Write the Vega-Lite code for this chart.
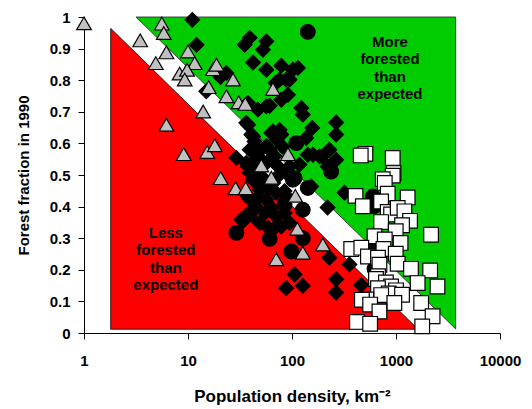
{
  "$schema": "https://vega.github.io/schema/vega-lite/v6.json",
  "width": 416,
  "height": 316,
  "autosize": {"type": "none"},
  "padding": {"left": 84, "top": 17, "right": 32, "bottom": 76},
  "background": "white",
  "config": {"view": {"stroke": null}, "font": "Liberation Sans"},
  "datasets": {
    "red": [
      {"x": 1.806, "y": 0.964, "y2": 0.012},
      {"x": 1629, "y": 0.012, "y2": 0.012}
    ],
    "green": [
      {"x": 3.16, "y": 1.0, "y2": 1.0},
      {"x": 3750, "y": 1.0, "y2": 0.013}
    ],
    "labels": [
      {"x": 875, "y": 0.921, "label": ["More", "forested", "than", "expected"]},
      {"x": 6.12, "y": 0.316, "label": ["Less", "forested", "than", "expected"]}
    ],
    "points": [
      {"x": 11.0, "y": 0.991, "t": "D"},
      {"x": 12.1, "y": 0.912, "t": "D"},
      {"x": 39.2, "y": 0.934, "t": "D"},
      {"x": 35.1, "y": 0.912, "t": "D"},
      {"x": 56.7, "y": 0.923, "t": "D"},
      {"x": 52.6, "y": 0.896, "t": "D"},
      {"x": 42.2, "y": 0.856, "t": "D"},
      {"x": 56.7, "y": 0.833, "t": "D"},
      {"x": 78.9, "y": 0.846, "t": "D"},
      {"x": 114, "y": 0.839, "t": "D"},
      {"x": 23.4, "y": 0.823, "t": "D"},
      {"x": 20.5, "y": 0.81, "t": "D"},
      {"x": 15.0, "y": 0.765, "t": "D"},
      {"x": 88, "y": 0.802, "t": "D"},
      {"x": 69.6, "y": 0.791, "t": "D"},
      {"x": 91.4, "y": 0.754, "t": "D"},
      {"x": 76, "y": 0.802, "t": "D"},
      {"x": 94.8, "y": 0.802, "t": "D"},
      {"x": 102, "y": 0.833, "t": "D"},
      {"x": 78.9, "y": 0.738, "t": "D"},
      {"x": 123, "y": 0.712, "t": "D"},
      {"x": 127, "y": 0.691, "t": "D"},
      {"x": 56.7, "y": 0.717, "t": "D"},
      {"x": 47, "y": 0.707, "t": "D"},
      {"x": 37.8, "y": 0.728, "t": "D"},
      {"x": 61, "y": 0.719, "t": "D"},
      {"x": 36.3, "y": 0.665, "t": "D"},
      {"x": 37.8, "y": 0.659, "t": "D"},
      {"x": 40.6, "y": 0.628, "t": "D"},
      {"x": 42.2, "y": 0.622, "t": "D"},
      {"x": 43.7, "y": 0.606, "t": "D"},
      {"x": 63.3, "y": 0.633, "t": "D"},
      {"x": 65.6, "y": 0.638, "t": "D"},
      {"x": 76, "y": 0.643, "t": "D"},
      {"x": 78.9, "y": 0.628, "t": "D"},
      {"x": 71, "y": 0.612, "t": "D"},
      {"x": 81, "y": 0.59, "t": "D"},
      {"x": 39.2, "y": 0.58, "t": "D"},
      {"x": 61, "y": 0.58, "t": "D"},
      {"x": 48.9, "y": 0.575, "t": "D"},
      {"x": 156.6, "y": 0.649, "t": "D"},
      {"x": 137, "y": 0.617, "t": "D"},
      {"x": 142, "y": 0.564, "t": "D"},
      {"x": 118, "y": 0.533, "t": "D"},
      {"x": 184, "y": 0.559, "t": "D"},
      {"x": 159, "y": 0.564, "t": "D"},
      {"x": 47, "y": 0.559, "t": "D"},
      {"x": 44, "y": 0.545, "t": "D"},
      {"x": 56.7, "y": 0.538, "t": "D"},
      {"x": 56.7, "y": 0.591, "t": "D"},
      {"x": 68, "y": 0.559, "t": "D"},
      {"x": 73.5, "y": 0.527, "t": "D"},
      {"x": 94.8, "y": 0.527, "t": "D"},
      {"x": 75, "y": 0.5, "t": "D"},
      {"x": 36.3, "y": 0.538, "t": "D"},
      {"x": 29.2, "y": 0.554, "t": "D"},
      {"x": 37.8, "y": 0.527, "t": "D"},
      {"x": 49, "y": 0.517, "t": "D"},
      {"x": 266, "y": 0.666, "t": "D"},
      {"x": 266, "y": 0.628, "t": "D"},
      {"x": 229, "y": 0.58, "t": "D"},
      {"x": 266, "y": 0.548, "t": "D"},
      {"x": 220, "y": 0.527, "t": "D"},
      {"x": 196, "y": 0.559, "t": "D"},
      {"x": 88, "y": 0.506, "t": "D"},
      {"x": 39.2, "y": 0.507, "t": "D"},
      {"x": 50.7, "y": 0.497, "t": "D"},
      {"x": 43.7, "y": 0.481, "t": "D"},
      {"x": 42.2, "y": 0.485, "t": "D"},
      {"x": 53, "y": 0.47, "t": "D"},
      {"x": 66, "y": 0.475, "t": "D"},
      {"x": 48.9, "y": 0.453, "t": "D"},
      {"x": 60, "y": 0.46, "t": "D"},
      {"x": 37.8, "y": 0.432, "t": "D"},
      {"x": 39.2, "y": 0.423, "t": "D"},
      {"x": 56.7, "y": 0.422, "t": "D"},
      {"x": 47, "y": 0.428, "t": "D"},
      {"x": 63.3, "y": 0.397, "t": "D"},
      {"x": 45, "y": 0.4, "t": "D"},
      {"x": 55, "y": 0.38, "t": "D"},
      {"x": 70, "y": 0.37, "t": "D"},
      {"x": 85, "y": 0.38, "t": "D"},
      {"x": 90, "y": 0.43, "t": "D"},
      {"x": 70.6, "y": 0.444, "t": "D"},
      {"x": 84.8, "y": 0.449, "t": "D"},
      {"x": 153, "y": 0.464, "t": "D"},
      {"x": 320, "y": 0.444, "t": "D"},
      {"x": 220, "y": 0.397, "t": "D"},
      {"x": 32.6, "y": 0.359, "t": "D"},
      {"x": 33.8, "y": 0.354, "t": "D"},
      {"x": 48.9, "y": 0.348, "t": "D"},
      {"x": 58.8, "y": 0.333, "t": "D"},
      {"x": 65.6, "y": 0.327, "t": "D"},
      {"x": 78.9, "y": 0.337, "t": "D"},
      {"x": 94.8, "y": 0.348, "t": "D"},
      {"x": 229, "y": 0.238, "t": "D"},
      {"x": 357, "y": 0.217, "t": "D"},
      {"x": 106, "y": 0.185, "t": "D"},
      {"x": 266, "y": 0.17, "t": "D"},
      {"x": 462, "y": 0.152, "t": "D"},
      {"x": 127, "y": 0.149, "t": "D"},
      {"x": 88, "y": 0.142, "t": "D"},
      {"x": 266, "y": 0.128, "t": "D"},
      {"x": 142, "y": 0.953, "t": "C"},
      {"x": 110, "y": 0.601, "t": "C"},
      {"x": 238, "y": 0.511, "t": "C"},
      {"x": 106, "y": 0.49, "t": "C"},
      {"x": 102, "y": 0.485, "t": "C"},
      {"x": 142, "y": 0.459, "t": "C"},
      {"x": 127, "y": 0.39, "t": "C"},
      {"x": 127, "y": 0.3, "t": "C"},
      {"x": 98.5, "y": 0.258, "t": "C"},
      {"x": 598, "y": 0.432, "t": "C"},
      {"x": 612, "y": 0.401, "t": "C"},
      {"x": 547, "y": 0.272, "t": "C"},
      {"x": 621, "y": 0.203, "t": "C"},
      {"x": 29.2, "y": 0.317, "t": "C"},
      {"x": 61, "y": 0.298, "t": "C"},
      {"x": 39.2, "y": 0.375, "t": "C"},
      {"x": 84.8, "y": 0.407, "t": "C"},
      {"x": 508, "y": 0.567, "t": "S"},
      {"x": 458, "y": 0.562, "t": "S"},
      {"x": 930, "y": 0.554, "t": "S"},
      {"x": 946, "y": 0.506, "t": "S"},
      {"x": 930, "y": 0.498, "t": "S"},
      {"x": 746, "y": 0.487, "t": "S"},
      {"x": 780, "y": 0.475, "t": "S"},
      {"x": 833, "y": 0.441, "t": "S"},
      {"x": 1294, "y": 0.429, "t": "S"},
      {"x": 408, "y": 0.434, "t": "S"},
      {"x": 480, "y": 0.401, "t": "S"},
      {"x": 719, "y": 0.416, "t": "S"},
      {"x": 833, "y": 0.383, "t": "S"},
      {"x": 897, "y": 0.375, "t": "S"},
      {"x": 1038, "y": 0.396, "t": "S"},
      {"x": 1205, "y": 0.385, "t": "S"},
      {"x": 719, "y": 0.351, "t": "S"},
      {"x": 1365, "y": 0.355, "t": "S"},
      {"x": 1143, "y": 0.341, "t": "S"},
      {"x": 994, "y": 0.322, "t": "S"},
      {"x": 2173, "y": 0.311, "t": "S"},
      {"x": 621, "y": 0.306, "t": "S"},
      {"x": 780, "y": 0.296, "t": "S"},
      {"x": 371, "y": 0.266, "t": "S"},
      {"x": 464, "y": 0.27, "t": "S"},
      {"x": 757, "y": 0.266, "t": "S"},
      {"x": 1107, "y": 0.285, "t": "S"},
      {"x": 994, "y": 0.251, "t": "S"},
      {"x": 537, "y": 0.242, "t": "S"},
      {"x": 671, "y": 0.238, "t": "S"},
      {"x": 1038, "y": 0.219, "t": "S"},
      {"x": 1393, "y": 0.203, "t": "S"},
      {"x": 693, "y": 0.216, "t": "S"},
      {"x": 2130, "y": 0.198, "t": "S"},
      {"x": 671, "y": 0.18, "t": "S"},
      {"x": 642, "y": 0.171, "t": "S"},
      {"x": 800, "y": 0.16, "t": "S"},
      {"x": 897, "y": 0.147, "t": "S"},
      {"x": 1615, "y": 0.158, "t": "S"},
      {"x": 2505, "y": 0.147, "t": "S"},
      {"x": 671, "y": 0.142, "t": "S"},
      {"x": 1000, "y": 0.135, "t": "S"},
      {"x": 850, "y": 0.125, "t": "S"},
      {"x": 720, "y": 0.12, "t": "S"},
      {"x": 1143, "y": 0.121, "t": "S"},
      {"x": 518, "y": 0.106, "t": "S"},
      {"x": 470, "y": 0.105, "t": "S"},
      {"x": 564, "y": 0.09, "t": "S"},
      {"x": 964, "y": 0.095, "t": "S"},
      {"x": 1746, "y": 0.095, "t": "S"},
      {"x": 693, "y": 0.068, "t": "S"},
      {"x": 2248, "y": 0.053, "t": "S"},
      {"x": 421, "y": 0.035, "t": "S"},
      {"x": 564, "y": 0.029, "t": "S"},
      {"x": 1787, "y": 0.021, "t": "S"},
      {"x": 1.0, "y": 0.98, "t": "T"},
      {"x": 5.6, "y": 0.979, "t": "T"},
      {"x": 5.85, "y": 0.949, "t": "T"},
      {"x": 3.47, "y": 0.926, "t": "T"},
      {"x": 6.2, "y": 0.888, "t": "T"},
      {"x": 10.0, "y": 0.891, "t": "T"},
      {"x": 4.9, "y": 0.854, "t": "T"},
      {"x": 11.6, "y": 0.854, "t": "T"},
      {"x": 8.3, "y": 0.821, "t": "T"},
      {"x": 9.8, "y": 0.833, "t": "T"},
      {"x": 9.3, "y": 0.802, "t": "T"},
      {"x": 14.0, "y": 0.701, "t": "T"},
      {"x": 6.2, "y": 0.659, "t": "T"},
      {"x": 9.1, "y": 0.566, "t": "T"},
      {"x": 15.3, "y": 0.573, "t": "T"},
      {"x": 18.1, "y": 0.594, "t": "T"},
      {"x": 17.4, "y": 0.835, "t": "T"},
      {"x": 18.8, "y": 0.849, "t": "T"},
      {"x": 15.8, "y": 0.778, "t": "T"},
      {"x": 27.1, "y": 0.802, "t": "T"},
      {"x": 23.4, "y": 0.749, "t": "T"},
      {"x": 30.7, "y": 0.73, "t": "T"},
      {"x": 35.6, "y": 0.725, "t": "T"},
      {"x": 65.6, "y": 0.772, "t": "T"},
      {"x": 91.4, "y": 0.566, "t": "T"},
      {"x": 50.7, "y": 0.53, "t": "T"},
      {"x": 20.6, "y": 0.49, "t": "T"},
      {"x": 28.7, "y": 0.458, "t": "T"},
      {"x": 35.9, "y": 0.458, "t": "T"},
      {"x": 63.3, "y": 0.491, "t": "T"},
      {"x": 107.6, "y": 0.434, "t": "T"},
      {"x": 112.5, "y": 0.33, "t": "T"},
      {"x": 127, "y": 0.254, "t": "T"},
      {"x": 70.6, "y": 0.233, "t": "T"},
      {"x": 198, "y": 0.28, "t": "T"}
    ]
  },
  "encoding": {
    "x": {
      "field": "x",
      "type": "quantitative",
      "scale": {"type": "log", "domain": [1, 10000], "nice": false},
      "axis": {
        "values": [1, 10, 100, 1000, 10000],
        "format": "d",
        "grid": false,
        "labelFlush": false,
        "labelFont": "Liberation Sans",
        "labelFontSize": 15,
        "labelFontWeight": "bold",
        "labelColor": "black",
        "labelPadding": 14,
        "tickSize": 6,
        "tickColor": "black",
        "domainColor": "black",
        "title": "Population density, km⁻²",
        "titleFont": "Liberation Sans",
        "titleFontSize": 17,
        "titleFontWeight": "bold",
        "titleColor": "black",
        "titlePadding": 20
      }
    },
    "y": {
      "field": "y",
      "type": "quantitative",
      "scale": {"domain": [0, 1], "nice": false, "zero": false},
      "axis": {
        "values": [0, 0.1, 0.2, 0.3, 0.4, 0.5, 0.6, 0.7, 0.8, 0.9, 1],
        "format": ".1~f",
        "grid": false,
        "labelFont": "Liberation Sans",
        "labelFontSize": 15,
        "labelFontWeight": "bold",
        "labelColor": "black",
        "labelPadding": 8,
        "tickSize": 6,
        "tickColor": "black",
        "domainColor": "black",
        "title": "Forest fraction in 1990",
        "titleFont": "Liberation Sans",
        "titleFontSize": 15,
        "titleFontWeight": "bold",
        "titleColor": "black",
        "titlePadding": 18
      }
    }
  },
  "layer": [
    {
      "data": {"name": "red"},
      "mark": {"type": "area", "fill": "#FF0000", "stroke": "black", "strokeWidth": 0.8},
      "encoding": {"y2": {"field": "y2"}}
    },
    {
      "data": {"name": "green"},
      "mark": {"type": "area", "fill": "#00CC00", "stroke": "#222222", "strokeWidth": 0.8},
      "encoding": {"y2": {"field": "y2"}}
    },
    {
      "data": {"name": "labels"},
      "mark": {"type": "text", "font": "Liberation Sans", "fontSize": 15, "fontWeight": "bold", "lineHeight": 17.3, "align": "center", "baseline": "middle", "color": "black"},
      "encoding": {"text": {"field": "label"}}
    },
    {
      "data": {"name": "points"},
      "mark": {"type": "point", "filled": true, "opacity": 1, "strokeWidth": 1.2},
      "encoding": {
        "shape": {"field": "t", "type": "nominal", "scale": {"domain": ["D", "C", "S", "T"], "range": ["diamond", "circle", "square", "triangle-up"]}, "legend": null},
        "size": {"field": "t", "type": "nominal", "scale": {"domain": ["D", "C", "S", "T"], "range": [215, 215, 92, 135]}, "legend": null},
        "fill": {"field": "t", "type": "nominal", "scale": {"domain": ["D", "C", "S", "T"], "range": ["black", "black", "white", "#C0C0C0"]}, "legend": null},
        "stroke": {"field": "t", "type": "nominal", "scale": {"domain": ["D", "C", "S", "T"], "range": ["black", "black", "black", "black"]}, "legend": null}
      }
    }
  ]
}
